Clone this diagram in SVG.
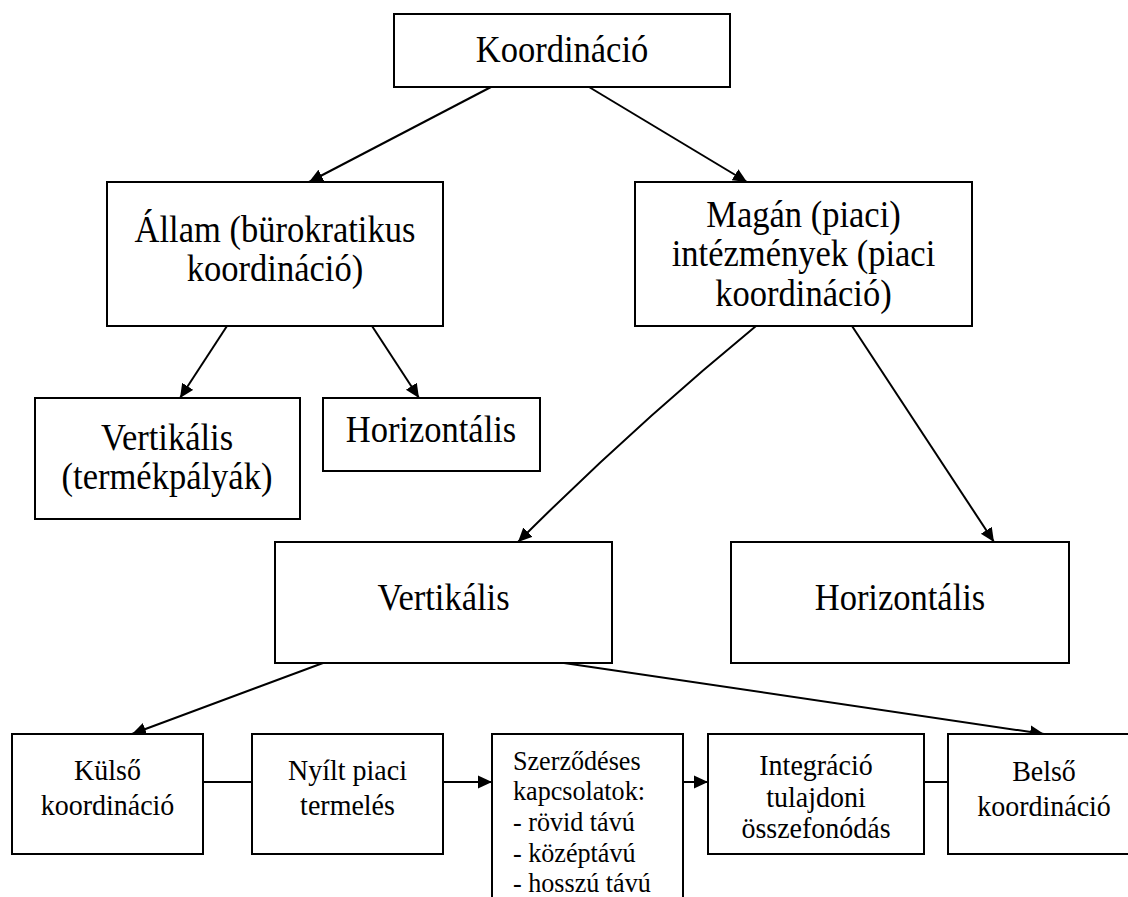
<svg xmlns="http://www.w3.org/2000/svg" width="1128" height="897" viewBox="0 0 1128 897">
<style>
.box{fill:#fff;stroke:#000;stroke-width:2}
.t{font-family:"Liberation Serif","Times New Roman",serif;fill:#000;text-anchor:middle}
.b{font-size:37px}
.m{font-size:30px}
.s{font-size:28px;text-anchor:start}
.c{fill:none;stroke:#000;stroke-width:2}
</style>
<defs>
<marker id="ah" markerUnits="userSpaceOnUse" markerWidth="15" markerHeight="15" refX="14" refY="7" orient="auto">
<path d="M0,0.5 L14,7 L0,13.5 z" fill="#000"/>
</marker>
</defs>
<rect width="1128" height="897" fill="#fff"/>
<g id="connectors">
<line class="c" x1="491" y1="87" x2="309" y2="182" marker-end="url(#ah)"/>
<line class="c" x1="589" y1="87" x2="747" y2="182" marker-end="url(#ah)"/>
<line class="c" x1="227" y1="326" x2="180" y2="398" marker-end="url(#ah)"/>
<line class="c" x1="372" y1="326" x2="419" y2="398" marker-end="url(#ah)"/>
<path class="c" d="M756,326 Q632,428 518,542" marker-end="url(#ah)"/>
<line class="c" x1="852" y1="326" x2="994" y2="542" marker-end="url(#ah)"/>
<line class="c" x1="323" y1="663" x2="132" y2="734" marker-end="url(#ah)"/>
<line class="c" x1="564" y1="663" x2="1044" y2="734" marker-end="url(#ah)"/>
<line class="c" x1="203" y1="782" x2="252" y2="782"/>
<line class="c" x1="443" y1="782" x2="492" y2="782" marker-end="url(#ah)"/>
<line class="c" x1="683" y1="782" x2="708" y2="782" marker-end="url(#ah)"/>
<line class="c" x1="924" y1="782" x2="948" y2="782"/>
</g>
<g id="n-koordinacio">
<rect class="box" x="394" y="14" width="336" height="73"/>
<text class="t b" transform="translate(562 62) scale(.933 1)">Koordináció</text>
</g>
<g id="n-allam">
<rect class="box" x="107" y="182" width="336" height="144"/>
<text class="t b" transform="translate(275 242) scale(.933 1)">Állam (bürokratikus</text>
<text class="t b" transform="translate(275 281) scale(.933 1)">koordináció)</text>
</g>
<g id="n-magan">
<rect class="box" x="635" y="182" width="337" height="144"/>
<text class="t b" transform="translate(803.5 227) scale(.933 1)">Magán (piaci)</text>
<text class="t b" transform="translate(803.5 266) scale(.933 1)">intézmények (piaci</text>
<text class="t b" transform="translate(803.5 306) scale(.933 1)">koordináció)</text>
</g>
<g id="n-vert-termek">
<rect class="box" x="35" y="398" width="265" height="121"/>
<text class="t b" transform="translate(167 450) scale(.933 1)">Vertikális</text>
<text class="t b" transform="translate(167 489) scale(.933 1)">(termékpályák)</text>
</g>
<g id="n-horiz-allam">
<rect class="box" x="323" y="398" width="217" height="73"/>
<text class="t b" transform="translate(431 442) scale(.933 1)">Horizontális</text>
</g>
<g id="n-vert">
<rect class="box" x="275" y="542" width="337" height="121"/>
<text class="t b" transform="translate(443.5 610) scale(.933 1)">Vertikális</text>
</g>
<g id="n-horiz">
<rect class="box" x="731" y="542" width="338" height="121"/>
<text class="t b" transform="translate(900 610) scale(.933 1)">Horizontális</text>
</g>
<g id="n-kulso">
<rect class="box" x="12" y="734" width="191" height="120"/>
<text class="t m" transform="translate(107.5 780) scale(.933 1)">Külső</text>
<text class="t m" transform="translate(107.5 815) scale(.933 1)">koordináció</text>
</g>
<g id="n-nyilt">
<rect class="box" x="252" y="734" width="191" height="120"/>
<text class="t m" transform="translate(347.5 780) scale(.933 1)">Nyílt piaci</text>
<text class="t m" transform="translate(347.5 815) scale(.933 1)">termelés</text>
</g>
<g id="n-szerz">
<rect class="box" x="492" y="734" width="191" height="180"/>
<text class="t s" transform="translate(513 770) scale(.933 1)">Szerződéses</text>
<text class="t s" transform="translate(513 800) scale(.933 1)">kapcsolatok:</text>
<text class="t s" transform="translate(513 831) scale(.933 1)">- rövid távú</text>
<text class="t s" transform="translate(513 862) scale(.933 1)">- középtávú</text>
<text class="t s" transform="translate(513 892) scale(.933 1)">- hosszú távú</text>
</g>
<g id="n-integ">
<rect class="box" x="708" y="734" width="216" height="120"/>
<text class="t m" transform="translate(816 775) scale(.933 1)">Integráció</text>
<text class="t m" transform="translate(816 807) scale(.933 1)">tulajdoni</text>
<text class="t m" transform="translate(816 838) scale(.933 1)">összefonódás</text>
</g>
<g id="n-belso">
<rect class="box" x="948" y="734" width="192" height="120"/>
<text class="t m" transform="translate(1044 781) scale(.933 1)">Belső</text>
<text class="t m" transform="translate(1044 816) scale(.933 1)">koordináció</text>
</g>
</svg>
